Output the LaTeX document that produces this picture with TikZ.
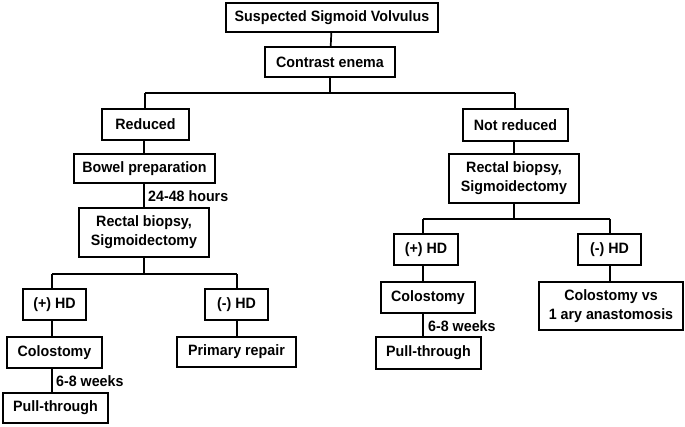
\documentclass[tikz,border=0pt]{standalone}
\usepackage{fontspec}
\setmainfont{Liberation Sans}[FakeStretch=0.95]
\begin{document}
\begin{tikzpicture}[x=1pt,y=-1pt,
  box/.style={draw,line width=1.7pt,inner sep=0pt,align=center,font=\bfseries\fontsize{15}{19}\selectfont},
  lbl/.style={inner sep=0pt,anchor=west,font=\bfseries\fontsize{15}{17}\selectfont},
  conn/.style={line width=1.7pt}]
\useasboundingbox (0,0) rectangle (685,427);
\node[box,minimum width=212,minimum height=29] (sus) at (332,17.5) {Suspected Sigmoid Volvulus};
\node[box,minimum width=130,minimum height=30] (ce) at (330,62) {Contrast enema};
\node[box,minimum width=87,minimum height=31] (red) at (145.5,124.5) {Reduced};
\node[box,minimum width=105,minimum height=32] (nred) at (515.5,125) {Not reduced};
\node[box,minimum width=141,minimum height=29] (bowel) at (144.5,168.5) {Bowel preparation};
\node[box,minimum width=130,minimum height=49] (rb1) at (144,232.5) {Rectal biopsy,\\Sigmoidectomy};
\node[box,minimum width=63,minimum height=31] (phd1) at (54.5,304.5) {(+) HD};
\node[box,minimum width=63,minimum height=31] (mhd1) at (236.5,304.5) {(-) HD};
\node[box,minimum width=95,minimum height=31] (col1) at (54.5,352.5) {Colostomy};
\node[box,minimum width=119,minimum height=30] (prim) at (236.5,352) {Primary repair};
\node[box,minimum width=105,minimum height=30] (pt1) at (55.5,408) {Pull-through};
\node[box,minimum width=130,minimum height=49] (rb2) at (514,178.5) {Rectal biopsy,\\Sigmoidectomy};
\node[box,minimum width=64,minimum height=31] (phd2) at (426,249.5) {(+) HD};
\node[box,minimum width=63,minimum height=31] (mhd2) at (609.5,249.5) {(-) HD};
\node[box,minimum width=94,minimum height=31] (col2) at (428,297.5) {Colostomy};
\node[box,minimum width=144,minimum height=48] (cva) at (611,306) {Colostomy vs\\1 ary anastomosis};
\node[box,minimum width=105,minimum height=32] (pt2) at (428.5,353) {Pull-through};
\node[lbl] (l1) at (148,196) {24-48 hours};
\node[lbl] (l2) at (56,381) {6-8 weeks};
\node[lbl] (l3) at (428,326) {6-8 weeks};
% junction coordinates
\coordinate (j1) at (330,93);
\coordinate (j1l) at (145,93);
\coordinate (j1r) at (515,93);
\coordinate (j2) at (144,274);
\coordinate (j2l) at (52,274);
\coordinate (j2r) at (237,274);
\coordinate (j3) at (514,219);
\coordinate (j3l) at (423,219);
\coordinate (j3r) at (610,219);
\draw[conn] (sus) -- (ce);
\draw[conn] (ce.south) -- (j1);
\draw[conn] (j1l) -- (j1r);
\draw[conn] (j1l) -- (j1l |- red.north);
\draw[conn] (j1r) -- (j1r |- nred.north);
\draw[conn] (red.south -| j2) -- (bowel.north -| j2);
\draw[conn] (bowel.south -| j2) -- (rb1.north -| j2);
\draw[conn] (rb1.south) -- (j2);
\draw[conn] (j2l) -- (j2r);
\draw[conn] (j2l) -- (j2l |- phd1.north);
\draw[conn] (j2r) -- (j2r |- mhd1.north);
\draw[conn] (phd1.south -| j2l) -- (col1.north -| j2l);
\draw[conn] (mhd1.south -| j2r) -- (prim.north -| j2r);
\draw[conn] (col1.south -| j2l) -- (pt1.north -| j2l);
\draw[conn] (nred.south -| j3) -- (rb2.north -| j3);
\draw[conn] (rb2.south) -- (j3);
\draw[conn] (j3l) -- (j3r);
\draw[conn] (j3l) -- (j3l |- phd2.north);
\draw[conn] (j3r) -- (j3r |- mhd2.north);
\draw[conn] (phd2.south -| j3l) -- (col2.north -| j3l);
\draw[conn] (mhd2.south -| j3r) -- (cva.north -| j3r);
\draw[conn] (col2.south -| j3l) -- (pt2.north -| j3l);
\end{tikzpicture}
\end{document}
